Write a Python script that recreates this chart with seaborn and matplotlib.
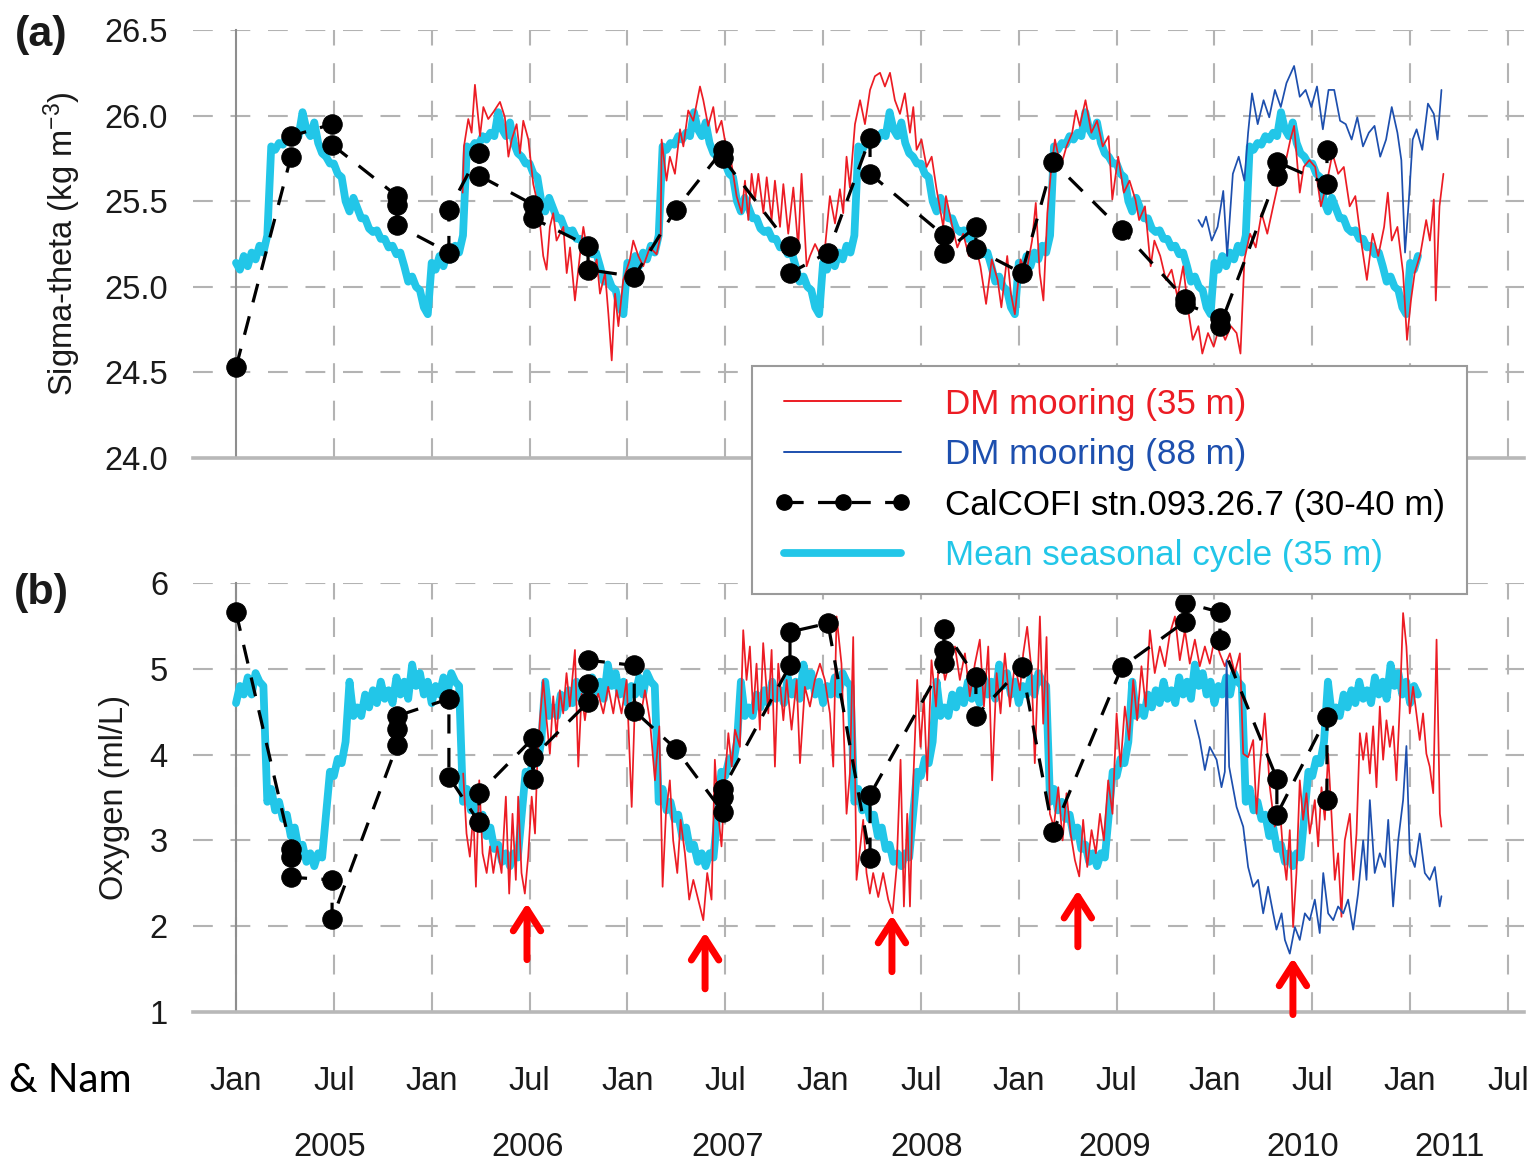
import numpy as np
import pandas as pd
import matplotlib
matplotlib.use("Agg")
import matplotlib.pyplot as plt
import matplotlib.transforms as mtransforms
from matplotlib.lines import Line2D
from matplotlib.ticker import MultipleLocator
import seaborn as sns

# ------------------------------------------------------------------ data
# Mean seasonal cycle (35 m): one year (phase = fraction of year)
cycle_phase = [0.00, 0.02, 0.04, 0.06, 0.08, 0.10, 0.12, 0.14, 0.16, 0.18,
               0.20, 0.22, 0.24, 0.26, 0.28, 0.30, 0.32, 0.34, 0.36, 0.38,
               0.40, 0.42, 0.44, 0.46, 0.48, 0.50, 0.52, 0.54, 0.56, 0.58,
               0.60, 0.62, 0.64, 0.66, 0.68, 0.70, 0.72, 0.74, 0.76, 0.78,
               0.80, 0.82, 0.84, 0.86, 0.88, 0.90, 0.92, 0.94, 0.96, 0.98]
cycle_sigma = [25.14, 25.10, 25.18, 25.12, 25.20, 25.16, 25.24, 25.20, 25.30, 25.82,
               25.80, 25.84, 25.83, 25.88, 25.86, 25.90, 25.88, 26.02, 25.92, 25.88,
               25.96, 25.84, 25.78, 25.76, 25.72, 25.72, 25.66, 25.64, 25.50, 25.44,
               25.52, 25.46, 25.40, 25.40, 25.34, 25.32, 25.33, 25.28, 25.28, 25.23,
               25.24, 25.19, 25.20, 25.12, 25.03, 25.06, 25.00, 24.98, 24.88, 24.84]
cycle_oxy = [4.60, 4.80, 4.70, 4.90, 4.70, 4.95, 4.85, 4.80, 3.45, 3.60,
             3.35, 3.45, 3.25, 3.30, 3.05, 3.15, 2.90, 2.95, 2.75, 2.85,
             2.70, 2.85, 2.80, 3.30, 3.80, 3.75, 3.95, 3.90, 4.15, 4.85,
             4.45, 4.55, 4.45, 4.70, 4.55, 4.75, 4.60, 4.85, 4.65, 4.75,
             4.60, 4.90, 4.70, 4.85, 4.65, 5.05, 4.80, 4.95, 4.70, 4.85]
cycle_years = [2005, 2006, 2007, 2008, 2009, 2010, 2011]
cycle_end = 2011.05

# DM mooring (35 m) sigma-theta
red_sigma_t = [
    2006.158, 2006.165, 2006.187, 2006.204, 2006.221, 2006.247, 2006.264, 2006.289, 2006.315, 2006.349,
    2006.374, 2006.392, 2006.409, 2006.434, 2006.451, 2006.468, 2006.494, 2006.519, 2006.545, 2006.570,
    2006.587, 2006.604, 2006.621, 2006.638, 2006.673, 2006.690, 2006.707, 2006.732, 2006.758, 2006.775,
    2006.792, 2006.817, 2006.843, 2006.860, 2006.886, 2006.903, 2006.920, 2006.937, 2006.954, 2006.979,
    2007.013, 2007.030, 2007.056, 2007.081, 2007.115, 2007.149, 2007.170, 2007.175, 2007.200, 2007.217,
    2007.243, 2007.269, 2007.286, 2007.311, 2007.337, 2007.371, 2007.388, 2007.413, 2007.439, 2007.456,
    2007.481, 2007.507, 2007.532, 2007.558, 2007.584, 2007.601, 2007.618, 2007.635, 2007.652, 2007.669,
    2007.695, 2007.712, 2007.737, 2007.754, 2007.780, 2007.797, 2007.822, 2007.848, 2007.873, 2007.890,
    2007.916, 2007.933, 2007.959, 2007.984, 2008.010, 2008.035, 2008.061, 2008.086, 2008.103, 2008.120,
    2008.137, 2008.163, 2008.189, 2008.214, 2008.240, 2008.265, 2008.291, 2008.316, 2008.342, 2008.367,
    2008.393, 2008.418, 2008.444, 2008.461, 2008.478, 2008.503, 2008.529, 2008.555, 2008.580, 2008.614,
    2008.628, 2008.657, 2008.686, 2008.716, 2008.745, 2008.774, 2008.804, 2008.833, 2008.862, 2008.892,
    2008.911, 2008.941, 2008.960, 2008.980, 2009.009, 2009.038, 2009.068, 2009.087, 2009.107, 2009.126,
    2009.146, 2009.165, 2009.185, 2009.214, 2009.244, 2009.273, 2009.292, 2009.312, 2009.341, 2009.371,
    2009.400, 2009.429, 2009.459, 2009.478, 2009.508, 2009.537, 2009.566, 2009.596, 2009.615, 2009.645,
    2009.674, 2009.693, 2009.723, 2009.752, 2009.781, 2009.811, 2009.840, 2009.869, 2009.889, 2009.918,
    2009.938, 2009.967, 2009.996, 2010.026, 2010.055, 2010.084, 2010.113, 2010.133, 2010.153, 2010.182,
    2010.211, 2010.241, 2010.270, 2010.300, 2010.329, 2010.358, 2010.388, 2010.407, 2010.436, 2010.456,
    2010.485, 2010.515, 2010.544, 2010.573, 2010.603, 2010.632, 2010.661, 2010.691, 2010.720, 2010.749,
    2010.779, 2010.808, 2010.837, 2010.867, 2010.886, 2010.906, 2010.935, 2010.964, 2010.984, 2011.004,
    2011.023, 2011.052, 2011.082, 2011.101, 2011.121, 2011.131, 2011.150, 2011.170]
red_sigma_v = [
    25.55, 25.82, 25.98, 25.90, 26.18, 25.88, 26.05, 25.98, 26.02, 26.08,
    25.99, 25.76, 25.86, 25.95, 25.78, 25.97, 25.86, 25.60, 25.47, 25.18,
    25.10, 25.35, 25.43, 25.27, 25.35, 25.08, 25.23, 24.92, 25.19, 25.35,
    25.23, 25.04, 25.16, 24.96, 25.08, 24.84, 24.57, 24.96, 24.77, 25.04,
    25.16, 25.27, 25.18, 25.12, 25.23, 25.19, 25.30, 25.86, 25.62, 25.76,
    25.66, 25.92, 25.82, 26.03, 25.97, 26.17, 26.09, 25.94, 26.05, 25.90,
    25.97, 25.80, 25.72, 25.53, 25.43, 25.62, 25.39, 25.66, 25.51, 25.66,
    25.43, 25.64, 25.39, 25.62, 25.35, 25.60, 25.31, 25.58, 25.23, 25.66,
    25.12, 25.18, 25.25, 25.19, 25.23, 25.53, 25.37, 25.57, 25.43, 25.76,
    25.58, 25.95, 26.09, 25.95, 26.15, 26.23, 26.25, 26.17, 26.25, 26.09,
    26.01, 26.13, 25.90, 26.05, 25.80, 25.86, 25.70, 25.76, 25.57, 25.35,
    25.53, 25.37, 25.23, 25.31, 25.18, 25.27, 25.12, 24.90, 25.16, 25.04,
    24.88, 25.18, 24.96, 24.84, 25.16, 25.08, 25.27, 25.49, 25.08, 24.92,
    25.43, 25.68, 25.86, 25.70, 25.82, 25.90, 26.03, 25.94, 26.09, 25.90,
    25.97, 25.82, 25.88, 25.51, 25.76, 25.55, 25.62, 25.51, 25.39, 25.47,
    25.12, 25.27, 25.18, 25.04, 25.10, 24.94, 25.12, 24.84, 24.69, 24.77,
    24.61, 24.73, 24.65, 24.77, 24.69, 24.77, 24.73, 24.61, 25.16, 25.31,
    25.23, 25.43, 25.31, 25.47, 25.62, 25.70, 25.86, 25.94, 25.55, 25.70,
    25.74, 25.70, 25.47, 25.60, 25.78, 25.66, 25.70, 25.47, 25.53, 25.27,
    25.04, 25.31, 25.18, 25.35, 25.55, 25.27, 25.35, 25.08, 24.69, 24.92,
    25.08, 25.19, 25.39, 25.27, 25.51, 24.92, 25.47, 25.66]

# DM mooring (88 m) sigma-theta
blue_sigma_t = [
    2009.918, 2009.938, 2009.957, 2009.986, 2010.016, 2010.045, 2010.065, 2010.094, 2010.124, 2010.153,
    2010.172, 2010.192, 2010.221, 2010.251, 2010.280, 2010.309, 2010.339, 2010.368, 2010.407, 2010.436,
    2010.466, 2010.495, 2010.524, 2010.554, 2010.583, 2010.612, 2010.642, 2010.671, 2010.701, 2010.730,
    2010.759, 2010.789, 2010.818, 2010.847, 2010.877, 2010.906, 2010.935, 2010.955, 2010.974, 2010.993,
    2011.013, 2011.033, 2011.062, 2011.091, 2011.121, 2011.140, 2011.160]
blue_sigma_v = [
    25.39, 25.35, 25.41, 25.27, 25.35, 25.56, 25.18, 25.66, 25.76, 25.62,
    25.90, 26.13, 25.95, 26.09, 25.99, 26.15, 26.05, 26.19, 26.29, 26.11,
    26.15, 26.05, 26.17, 25.92, 26.15, 26.15, 25.97, 25.95, 25.86, 25.99,
    25.82, 25.90, 25.94, 25.76, 25.86, 26.05, 25.90, 25.74, 25.20, 25.50,
    25.86, 25.92, 25.80, 26.07, 26.01, 25.86, 26.15]

# DM mooring (35 m) oxygen
red_oxy_t = [
    2006.161, 2006.178, 2006.195, 2006.213, 2006.226, 2006.243, 2006.260, 2006.281, 2006.298, 2006.315,
    2006.335, 2006.357, 2006.379, 2006.396, 2006.413, 2006.430, 2006.442, 2006.459, 2006.476, 2006.493,
    2006.511, 2006.528, 2006.539, 2006.553, 2006.570, 2006.587, 2006.604, 2006.621, 2006.638, 2006.655,
    2006.672, 2006.689, 2006.706, 2006.732, 2006.749, 2006.766, 2006.783, 2006.809, 2006.826, 2006.851,
    2006.877, 2006.902, 2006.928, 2006.945, 2006.970, 2006.996, 2007.022, 2007.039, 2007.064, 2007.090,
    2007.115, 2007.141, 2007.163, 2007.180, 2007.197, 2007.217, 2007.234, 2007.255, 2007.272, 2007.294,
    2007.316, 2007.337, 2007.362, 2007.388, 2007.408, 2007.430, 2007.447, 2007.464, 2007.481, 2007.498,
    2007.516, 2007.533, 2007.550, 2007.575, 2007.592, 2007.609, 2007.626, 2007.643, 2007.660, 2007.677,
    2007.694, 2007.720, 2007.737, 2007.754, 2007.771, 2007.797, 2007.814, 2007.839, 2007.865, 2007.882,
    2007.907, 2007.933, 2007.958, 2007.984, 2008.009, 2008.035, 2008.052, 2008.069, 2008.094, 2008.120,
    2008.137, 2008.154, 2008.171,
    2008.205, 2008.222, 2008.239, 2008.256, 2008.282, 2008.307, 2008.333, 2008.355, 2008.376, 2008.396,
    2008.413, 2008.430, 2008.444, 2008.461, 2008.481, 2008.498, 2008.515, 2008.532, 2008.554, 2008.577,
    2008.597, 2008.623, 2008.648, 2008.674, 2008.699, 2008.725, 2008.750, 2008.776, 2008.801, 2008.822,
    2008.844, 2008.864, 2008.887, 2008.907, 2008.929, 2008.955, 2008.980, 2009.006, 2009.023, 2009.043,
    2009.065, 2009.082, 2009.108, 2009.125, 2009.142, 2009.159, 2009.179, 2009.202, 2009.224, 2009.244,
    2009.265, 2009.287, 2009.309, 2009.329, 2009.350, 2009.372, 2009.394, 2009.415, 2009.435, 2009.457,
    2009.479, 2009.500, 2009.520, 2009.542, 2009.564, 2009.585, 2009.605, 2009.627, 2009.649, 2009.670,
    2009.695, 2009.721, 2009.747, 2009.772, 2009.798, 2009.823, 2009.849, 2009.874, 2009.900, 2009.925,
    2009.951, 2009.976, 2010.002, 2010.027, 2010.053, 2010.079, 2010.104, 2010.130, 2010.147, 2010.172,
    2010.198, 2010.215, 2010.232, 2010.257, 2010.283, 2010.308,
    2010.334, 2010.351, 2010.368, 2010.385, 2010.402, 2010.419, 2010.436, 2010.453, 2010.470, 2010.487,
    2010.513, 2010.530, 2010.547, 2010.564, 2010.581, 2010.598, 2010.615, 2010.632, 2010.649, 2010.666,
    2010.692, 2010.709, 2010.726, 2010.743, 2010.760, 2010.777, 2010.794, 2010.811, 2010.828, 2010.845,
    2010.862, 2010.879, 2010.896, 2010.913, 2010.930, 2010.947, 2010.964, 2010.981, 2010.998, 2011.015,
    2011.032, 2011.049, 2011.066, 2011.083, 2011.100, 2011.118, 2011.135, 2011.152, 2011.160]
red_oxy_v = [
    3.78, 3.08, 2.81, 3.31, 2.46, 3.70, 2.85, 2.62, 2.93, 2.62,
    2.93, 2.62, 3.51, 2.38, 3.31, 2.54, 3.51, 2.62, 2.38, 2.81,
    3.51, 3.08, 3.86, 4.40, 4.87, 4.40, 4.01, 4.68, 4.21, 4.75,
    4.48, 4.95, 4.56, 5.22, 3.86, 4.71, 4.40, 4.87, 4.56, 4.71,
    4.48, 4.79, 4.48, 4.75, 4.48, 4.87, 3.39, 4.64, 4.40, 4.75,
    4.40, 3.70, 4.33, 2.46, 3.31, 3.70, 3.00, 2.62, 3.24, 2.85,
    2.31, 2.54, 2.31, 2.07, 2.62, 2.31, 3.94, 3.31, 2.93, 3.70,
    4.25, 3.86, 4.29, 4.09, 5.45, 4.87, 5.26, 4.48, 5.06, 4.29,
    5.30, 4.48, 5.22, 3.86, 5.06, 4.40, 4.87, 4.29, 4.87, 3.90,
    4.79, 4.56, 4.87, 5.06, 4.87, 4.48, 3.86, 5.61, 5.06, 3.31,
    3.78, 5.37, 2.54,
    3.24, 2.62, 2.38, 2.62, 2.34, 2.62, 2.31, 2.15, 2.69, 3.94,
    2.23, 3.31, 2.23, 3.70, 4.87, 4.09, 4.68, 3.70, 5.10, 4.56,
    5.26, 4.87, 5.10, 5.26, 4.87, 5.18, 4.68, 5.06, 5.34, 4.56,
    5.26, 3.70, 4.95, 4.48, 5.18, 4.56, 5.06, 4.75, 5.18, 5.49,
    4.99, 3.90, 5.61, 4.36, 5.37, 3.31, 3.16, 3.62, 3.00, 3.55,
    3.08, 2.77, 2.58, 3.24, 2.69, 3.12, 2.85, 3.31, 3.00, 3.70,
    3.31, 4.48, 3.86, 4.56, 4.17, 4.87, 4.40, 5.03, 4.56, 5.45,
    4.95, 5.26, 5.03, 5.41, 5.61, 5.10, 5.45, 5.06, 5.34, 5.03,
    5.26, 5.06, 5.37, 5.18, 5.03, 5.18, 4.95, 5.18, 4.01, 3.97,
    4.17, 3.31, 3.86, 4.48, 3.62, 3.16,
    3.39, 2.85, 2.54, 3.12, 1.99, 2.62, 3.70, 3.24, 3.55, 3.08,
    3.47, 2.93, 3.62, 3.24, 4.01, 3.31, 2.54, 2.85, 2.11, 3.00,
    3.31, 2.54, 3.08, 4.25, 3.94, 4.25, 3.78, 4.33, 3.62, 4.56,
    3.94, 4.40, 4.09, 4.33, 3.70, 4.56, 5.65, 5.26, 4.48, 4.79,
    4.48, 4.17, 4.48, 4.01, 3.86, 3.55, 5.34, 3.31, 3.16]

# DM mooring (88 m) oxygen
blue_oxy_t = [
    2009.900, 2009.925, 2009.951, 2009.976, 2010.011, 2010.036, 2010.053, 2010.062, 2010.075, 2010.113,
    2010.147, 2010.172, 2010.198, 2010.223, 2010.249, 2010.274, 2010.300, 2010.317, 2010.343, 2010.360,
    2010.385, 2010.411, 2010.436, 2010.462, 2010.487, 2010.513, 2010.538, 2010.556, 2010.581, 2010.607,
    2010.632, 2010.658, 2010.683, 2010.709, 2010.734, 2010.760, 2010.777, 2010.794, 2010.819, 2010.845,
    2010.871, 2010.888, 2010.913, 2010.939, 2010.964, 2010.981, 2010.998, 2011.024, 2011.049, 2011.075,
    2011.100, 2011.126, 2011.151, 2011.160]
blue_oxy_v = [
    4.40, 4.17, 3.82, 4.09, 3.94, 3.62, 3.80, 5.10, 3.86, 3.39,
    3.16, 2.69, 2.46, 2.54, 2.15, 2.46, 2.15, 1.96, 2.15, 1.84,
    1.68, 1.99, 1.84, 2.15, 2.07, 2.31, 1.92, 2.62, 2.15, 2.07,
    2.23, 2.15, 2.31, 1.96, 2.38, 3.00, 2.54, 3.47, 2.62, 2.85,
    2.69, 3.24, 2.23, 3.00, 3.47, 4.10, 2.85, 2.69, 3.08, 2.62,
    2.54, 2.69, 2.23, 2.35]

# CalCOFI stn.093.26.7 (30-40 m) casts
calcofi_sigma_t = [2005.000, 2005.281, 2005.281, 2005.491, 2005.491, 2005.823, 2005.823, 2005.823,
                   2006.088, 2006.088, 2006.242, 2006.242, 2006.518, 2006.518, 2006.799, 2006.799,
                   2007.035, 2007.246, 2007.488, 2007.488, 2007.831, 2007.831, 2008.025,
                   2008.240, 2008.240, 2008.618, 2008.618, 2008.781, 2008.781, 2009.016,
                   2009.175, 2009.527, 2009.849, 2009.849, 2010.028, 2010.028,
                   2010.319, 2010.319, 2010.575, 2010.575]
calcofi_sigma_v = [24.53, 25.76, 25.88, 25.95, 25.83, 25.53, 25.48, 25.36,
                   25.20, 25.45, 25.78, 25.65, 25.48, 25.40, 25.24, 25.10,
                   25.06, 25.45, 25.80, 25.75, 25.24, 25.08, 25.20,
                   25.87, 25.66, 25.30, 25.20, 25.35, 25.22, 25.08,
                   25.73, 25.33, 24.93, 24.90, 24.82, 24.77,
                   25.65, 25.73, 25.60, 25.80]
calcofi_oxy_t = [2005.000, 2005.281, 2005.281, 2005.281, 2005.491, 2005.491,
                 2005.823, 2005.823, 2005.823, 2006.088, 2006.088, 2006.242, 2006.242,
                 2006.518, 2006.518, 2006.518, 2006.799, 2006.799, 2006.799,
                 2007.035, 2007.035, 2007.246, 2007.488, 2007.488, 2007.488,
                 2007.831, 2007.831, 2008.025, 2008.240, 2008.240,
                 2008.618, 2008.618, 2008.618, 2008.781, 2008.781, 2009.016,
                 2009.175, 2009.527, 2009.849, 2009.849, 2010.028, 2010.028,
                 2010.319, 2010.319, 2010.575, 2010.575]
calcofi_oxy_v = [5.66, 2.90, 2.81, 2.57, 2.54, 2.08,
                 4.11, 4.30, 4.45, 4.65, 3.74, 3.21, 3.55,
                 4.19, 3.72, 3.97, 4.61, 4.82, 5.10,
                 5.04, 4.51, 4.07, 3.33, 3.51, 3.60,
                 5.04, 5.43, 5.53, 2.80, 3.53,
                 5.07, 5.22, 5.46, 4.90, 4.45, 5.02,
                 3.10, 5.02, 5.55, 5.77, 5.66, 5.34,
                 3.72, 3.30, 4.44, 3.47]

# Hypoxia events marked with red arrows (time, oxygen at arrow tip)
event_t = [2006.487, 2007.397, 2008.352, 2009.302, 2010.401]
event_tip = [2.27, 1.93, 2.13, 2.42, 1.63]

legend_labels = ["DM mooring (35 m)", "DM mooring (88 m)",
                 "CalCOFI stn.093.26.7 (30-40 m)", "Mean seasonal cycle (35 m)"]
year_labels = ["2005", "2006", "2007", "2008", "2009", "2010", "2011"]
month_labels = ["Jan", "Jul"] * 7

# ------------------------------------------------------------------ style
sns.set_style("white")
plt.rcParams["font.family"] = ["Liberation Sans", "DejaVu Sans"]
plt.rcParams["mathtext.fontset"] = "custom"
plt.rcParams["mathtext.rm"] = "Liberation Sans"
plt.rcParams["mathtext.it"] = "Liberation Sans:italic"
plt.rcParams["axes.unicode_minus"] = True

RED = "#ec1c24"
BLUE = "#1d4fae"
CYAN = "#22c6e8"
BLACK = "#000000"
AXC = "#8e8e8e"
GRIDC = "#b3b3b3"

W, H = 1535, 1166
fig = plt.figure(figsize=(W / 100, H / 100), dpi=100)
fig.patch.set_facecolor("white")

X0 = 2005.0 - 43 / 195.69
X1 = 2005.0 + (1524 - 236) / 195.69

ax1 = fig.add_axes([193 / W, 1 - 458 / H, 1331 / W, 428 / H])
ax2 = fig.add_axes([193 / W, 1 - 1012 / H, 1331 / W, 429 / H])

# seasonal cycle repeated over the record
cyc_t = np.concatenate([y + np.array(cycle_phase) for y in cycle_years])
keep = cyc_t <= cycle_end
cyc_sig = np.tile(cycle_sigma, len(cycle_years))[keep]
cyc_oxy = np.tile(cycle_oxy, len(cycle_years))[keep]
cyc_t = cyc_t[keep]

line_common = dict(estimator=None, sort=False, legend=False)
dash_style = (0, (6, 4.5))

def draw(ax, cyc_v, red_t, red_v, blue_t, blue_v, cal_t, cal_v):
    sns.lineplot(x=cyc_t, y=cyc_v, ax=ax, color=CYAN, linewidth=5.6, zorder=2, **line_common)
    sns.lineplot(x=red_t, y=red_v, ax=ax, color=RED, linewidth=1.25, zorder=3, **line_common)
    sns.lineplot(x=blue_t, y=blue_v, ax=ax, color=BLUE, linewidth=1.25, zorder=4, **line_common)
    sns.lineplot(x=cal_t, y=cal_v, ax=ax, color=BLACK, linewidth=2.3, linestyle=dash_style,
                 marker="o", markersize=14, markeredgecolor=BLACK, markerfacecolor=BLACK,
                 zorder=5, **line_common)

draw(ax1, cyc_sig, red_sigma_t, red_sigma_v, blue_sigma_t, blue_sigma_v,
     calcofi_sigma_t, calcofi_sigma_v)
draw(ax2, cyc_oxy, red_oxy_t, red_oxy_v, blue_oxy_t, blue_oxy_v,
     calcofi_oxy_t, calcofi_oxy_v)

ax1.set_ylim(24.0, 26.5)
ax2.set_ylim(1.0, 6.0)
ax1.yaxis.set_major_locator(MultipleLocator(0.5))
ax1.yaxis.set_minor_locator(MultipleLocator(0.25))
ax1.yaxis.set_major_formatter(matplotlib.ticker.FormatStrFormatter("%.1f"))
ax2.yaxis.set_major_locator(MultipleLocator(1.0))
ax2.yaxis.set_minor_locator(MultipleLocator(0.5))

tick_pos = [2005.0 + 0.5 * i for i in range(14)]
ax2.set_xticks(tick_pos)
ax2.set_xticklabels(month_labels)
ax1.set_xticks(tick_pos[1:])
ax1.tick_params(axis="x", labelbottom=False)

for ax in (ax1, ax2):
    ax.set_xlim(X0, X1)
    ax.set_xlabel("")
    ax.set_ylabel("")
    ax.set_facecolor("white")
    ax.set_axisbelow(True)
    ax.spines["top"].set_visible(False)
    ax.spines["right"].set_visible(False)
    ax.spines["left"].set_position(("data", 2005.0))
    ax.spines["left"].set_color(AXC)
    ax.spines["left"].set_linewidth(1.5)
    ax.spines["left"].set_zorder(1.5)
    ax.spines["bottom"].set_color("#b8b8b8")
    ax.spines["bottom"].set_linewidth(2.6)
    ax.tick_params(axis="y", which="major", direction="out", length=31, width=1.5,
                   color=AXC, pad=18, labelsize=23.5, labelcolor="#1a1a1a")
    ax.tick_params(axis="y", which="minor", direction="out", length=15, width=1.5, color=AXC)
    ax.tick_params(axis="x", which="major", direction="inout", length=32, width=1.5,
                   color=AXC, pad=23, labelsize=23.5, labelcolor="#1a1a1a")
    ax.grid(True, which="major", axis="both", color=GRIDC, linewidth=1.5,
            linestyle=(0, (9.5, 8.5)))

# year labels under the month labels
year_pos = [2005.48, 2006.49, 2007.51, 2008.53, 2009.49, 2010.45, 2011.20]
trans = mtransforms.blended_transform_factory(ax2.transData, ax2.transAxes)
for yl, xp in zip(year_labels, year_pos):
    ax2.text(xp, -0.317, yl, transform=trans, ha="center", va="center",
             fontsize=23.5, color="#1a1a1a")

# red arrows marking low-oxygen events
for t, tip in zip(event_t, event_tip):
    ax2.annotate("", xy=(t, tip), xytext=(t, tip - 0.66),
                 arrowprops=dict(arrowstyle="->,head_length=0.7,head_width=0.45",
                                 color="#ff0000", lw=5, mutation_scale=22,
                                 shrinkA=0, shrinkB=0),
                 annotation_clip=False, zorder=6)

# axis titles and panel letters
fig.text(62 / W, 1 - 244 / H, "Sigma-theta (kg m$^{-3}$)", rotation=90,
         ha="center", va="center", fontsize=23.5, color="#1a1a1a")
fig.text(114 / W, 1 - 797 / H, "Oxygen (ml/L)", rotation=90,
         ha="center", va="center", fontsize=23.5, color="#1a1a1a")
fig.text(41 / W, 1 - 35 / H, "(a)", ha="center", va="center", fontsize=31,
         fontweight="bold", color="#1a1a1a")
fig.text(41 / W, 1 - 593 / H, "(b)", ha="center", va="center", fontsize=31,
         fontweight="bold", color="#1a1a1a")
fig.text(9 / W, 1 - 1081 / H, "& Nam", ha="left", va="center", fontsize=29,
         family=["Lato", "DejaVu Sans"], color="black")

# legend
handles = [
    Line2D([], [], color=RED, lw=1.4),
    Line2D([], [], color=BLUE, lw=1.4),
    Line2D([], [], color=BLACK, lw=2.3, ls=dash_style, marker="o", ms=11,
           markeredgecolor=BLACK, markerfacecolor=BLACK),
    Line2D([], [], color=CYAN, lw=5.6),
]
leg = fig.legend(handles, legend_labels, loc="upper left",
                 bbox_to_anchor=(752 / W, 1 - 366 / H), bbox_transform=fig.transFigure,
                 frameon=True, fancybox=False, edgecolor="#9a9a9a", framealpha=1.0,
                 fontsize=25.2, handlelength=3.95, handletextpad=0.95, borderpad=0.62,
                 labelspacing=0.5, numpoints=3, borderaxespad=0)
leg.get_frame().set_linewidth(1.5)
for txt, c in zip(leg.get_texts(), [RED, BLUE, BLACK, CYAN]):
    txt.set_color(c)

fig.savefig("out.png", dpi=100, facecolor="white")
